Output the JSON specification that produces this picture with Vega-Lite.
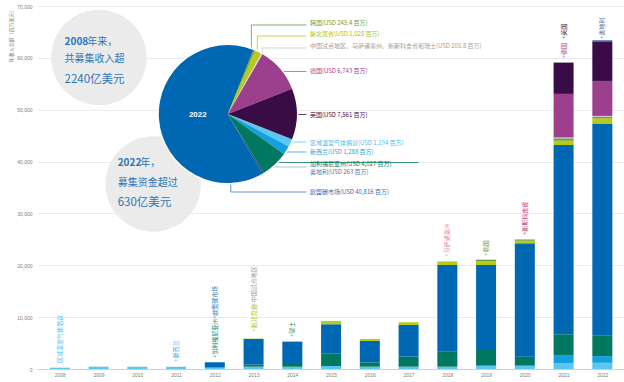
{
  "$schema": "https://vega.github.io/schema/vega-lite/v6.json",
  "width": 587,
  "height": 363,
  "autosize": "none",
  "padding": {"left": 37, "top": 6, "right": 0, "bottom": 13},
  "background": "white",
  "config": {
    "view": {"stroke": null},
    "font": "Noto Sans CJK SC",
    "axisX": {"labelFont": "Liberation Sans", "labelFontSize": 5, "labelColor": "#808080", "ticks": false, "grid": false, "domainColor": "#d0d0d0", "labelPadding": 3},
    "axisY": {"labelFont": "Liberation Sans", "labelFontSize": 5, "labelColor": "#808080", "labelPadding": 5, "ticks": false, "domain": false, "gridColor": "#ebebeb", "gridWidth": 1, "titleFontSize": 5, "titleColor": "#8a8a8a", "titleFontWeight": "normal"}
  },
  "datasets": {
    "series": [
      {"s": "区域温室气体倡议", "rank": 1, "prank": 6},
      {"s": "新西兰", "rank": 2, "prank": 7},
      {"s": "加利福尼亚州", "rank": 3, "prank": 8},
      {"s": "欧盟碳市场", "rank": 4, "prank": 10},
      {"s": "魁北克省", "rank": 5, "prank": 2},
      {"s": "韩国", "rank": 6, "prank": 1},
      {"s": "中国试点地区等", "rank": 7, "prank": 3},
      {"s": "德国", "rank": 8, "prank": 4},
      {"s": "英国", "rank": 9, "prank": 5},
      {"s": "奥地利", "rank": 10, "prank": 9}
    ],
    "bars": [
      {"year": 2008, "s": "区域温室气体倡议", "v": 250},
      {"year": 2009, "s": "区域温室气体倡议", "v": 450},
      {"year": 2010, "s": "区域温室气体倡议", "v": 440},
      {"year": 2011, "s": "区域温室气体倡议", "v": 430},
      {"year": 2012, "s": "区域温室气体倡议", "v": 240},
      {"year": 2012, "s": "加利福尼亚州", "v": 60},
      {"year": 2012, "s": "欧盟碳市场", "v": 1000},
      {"year": 2013, "s": "区域温室气体倡议", "v": 450},
      {"year": 2013, "s": "加利福尼亚州", "v": 390},
      {"year": 2013, "s": "欧盟碳市场", "v": 4960},
      {"year": 2013, "s": "魁北克省", "v": 60},
      {"year": 2013, "s": "中国试点地区等", "v": 20},
      {"year": 2014, "s": "区域温室气体倡议", "v": 450},
      {"year": 2014, "s": "加利福尼亚州", "v": 520},
      {"year": 2014, "s": "欧盟碳市场", "v": 4300},
      {"year": 2014, "s": "魁北克省", "v": 120},
      {"year": 2015, "s": "区域温室气体倡议", "v": 580},
      {"year": 2015, "s": "加利福尼亚州", "v": 2450},
      {"year": 2015, "s": "欧盟碳市场", "v": 5600},
      {"year": 2015, "s": "魁北克省", "v": 640},
      {"year": 2016, "s": "区域温室气体倡议", "v": 450},
      {"year": 2016, "s": "加利福尼亚州", "v": 840},
      {"year": 2016, "s": "欧盟碳市场", "v": 4120},
      {"year": 2016, "s": "魁北克省", "v": 390},
      {"year": 2017, "s": "区域温室气体倡议", "v": 450},
      {"year": 2017, "s": "加利福尼亚州", "v": 1930},
      {"year": 2017, "s": "欧盟碳市场", "v": 6110},
      {"year": 2017, "s": "魁北克省", "v": 520},
      {"year": 2018, "s": "区域温室气体倡议", "v": 450},
      {"year": 2018, "s": "加利福尼亚州", "v": 2890},
      {"year": 2018, "s": "欧盟碳市场", "v": 16720},
      {"year": 2018, "s": "魁北克省", "v": 710},
      {"year": 2018, "s": "中国试点地区等", "v": 60},
      {"year": 2019, "s": "区域温室气体倡议", "v": 640},
      {"year": 2019, "s": "加利福尼亚州", "v": 3020},
      {"year": 2019, "s": "欧盟碳市场", "v": 16390},
      {"year": 2019, "s": "魁北克省", "v": 770},
      {"year": 2019, "s": "韩国", "v": 250},
      {"year": 2019, "s": "中国试点地区等", "v": 60},
      {"year": 2020, "s": "区域温室气体倡议", "v": 640},
      {"year": 2020, "s": "加利福尼亚州", "v": 1740},
      {"year": 2020, "s": "欧盟碳市场", "v": 21850},
      {"year": 2020, "s": "魁北克省", "v": 510},
      {"year": 2020, "s": "韩国", "v": 250},
      {"year": 2020, "s": "中国试点地区等", "v": 80},
      {"year": 2021, "s": "区域温室气体倡议", "v": 1100},
      {"year": 2021, "s": "新西兰", "v": 1610},
      {"year": 2021, "s": "加利福尼亚州", "v": 3990},
      {"year": 2021, "s": "欧盟碳市场", "v": 36490},
      {"year": 2021, "s": "魁北克省", "v": 840},
      {"year": 2021, "s": "韩国", "v": 450},
      {"year": 2021, "s": "中国试点地区等", "v": 150},
      {"year": 2021, "s": "德国", "v": 8420},
      {"year": 2021, "s": "英国", "v": 6040},
      {"year": 2022, "s": "区域温室气体倡议", "v": 1194},
      {"year": 2022, "s": "新西兰", "v": 1288},
      {"year": 2022, "s": "加利福尼亚州", "v": 4027},
      {"year": 2022, "s": "欧盟碳市场", "v": 40816},
      {"year": 2022, "s": "魁北克省", "v": 1028},
      {"year": 2022, "s": "韩国", "v": 245.4},
      {"year": 2022, "s": "中国试点地区等", "v": 205.8},
      {"year": 2022, "s": "德国", "v": 6743},
      {"year": 2022, "s": "英国", "v": 7561},
      {"year": 2022, "s": "奥地利", "v": 263}
    ],
    "bubbles": [
      {"x": 2009.01, "y": 60070},
      {"x": 2010.41, "y": 35675}
    ],
    "btext": [
      {"x": 2008.707, "y": 63117, "t": "年来，"},
      {"x": 2008.123, "y": 59723, "t": "共募集收入超"},
      {"x": 2010.077, "y": 39667, "t": "年，"},
      {"x": 2009.493, "y": 35810, "t": "募集资金超过"}
    ],
    "bbold": [
      {"x": 2008.123, "y": 63117, "t": "2008"},
      {"x": 2009.493, "y": 39667, "t": "2022"}
    ],
    "bbig": [
      {"x": 2008.123, "y": 55731, "t": "2240亿美元"},
      {"x": 2009.493, "y": 31954, "t": "630亿美元"}
    ],
    "leaders": [
      {"c": "韩国", "x": 2012.943, "y": 61000, "x2": 2012.943, "y2": 66337},
      {"c": "韩国", "x": 2012.943, "y": 66337, "x2": 2014.364, "y2": 66337},
      {"c": "魁北克省", "x": 2013.096, "y": 60600, "x2": 2013.096, "y2": 64216},
      {"c": "魁北克省", "x": 2013.096, "y": 64216, "x2": 2014.364, "y2": 64216},
      {"c": "中国试点地区等", "x": 2013.222, "y": 60000, "x2": 2013.222, "y2": 61902},
      {"c": "中国试点地区等", "x": 2013.222, "y": 61902, "x2": 2014.364, "y2": 61902},
      {"c": "德国", "x": 2013.6, "y": 57370, "x2": 2014.364, "y2": 57370},
      {"c": "英国", "x": 2014.0, "y": 49078, "x2": 2014.364, "y2": 49078},
      {"c": "区域温室气体倡议", "x": 2013.85, "y": 43775, "x2": 2014.364, "y2": 43775},
      {"c": "新西兰", "x": 2013.7, "y": 41846, "x2": 2014.364, "y2": 41846},
      {"c": "加利福尼亚州", "x": 2013.5, "y": 39822, "x2": 2017.256, "y2": 39822},
      {"c": "奥地利", "x": 2013.3, "y": 38954, "x2": 2014.364, "y2": 38954},
      {"c": "欧盟碳市场", "x": 2012.411, "y": 36600, "x2": 2012.411, "y2": 34133},
      {"c": "欧盟碳市场", "x": 2012.411, "y": 34133, "x2": 2014.364, "y2": 34133}
    ],
    "plabels": [
      {"c": "韩国", "x": 2014.453, "y": 66659, "t": "韩国(USD 245.4 百万)"},
      {"c": "魁北克省", "x": 2014.453, "y": 64505, "t": "魁北克省(USD 1,028 百万)"},
      {"c": "中国试点地区等", "x": 2014.453, "y": 62191, "t": "中国试点地区、马萨诸塞州、新斯科舍省和瑞士(USD 205.8 百万)"},
      {"c": "德国", "x": 2014.453, "y": 57466, "t": "德国(USD 6,743 百万)"},
      {"c": "英国", "x": 2014.453, "y": 48981, "t": "英国(USD 7,561 百万)"},
      {"c": "区域温室气体倡议", "x": 2014.453, "y": 43582, "t": "区域温室气体倡议(USD 1,194 百万)"},
      {"c": "新西兰", "x": 2014.453, "y": 41750, "t": "新西兰(USD 1,288 百万)"},
      {"c": "加利福尼亚州", "x": 2014.453, "y": 39532, "t": "加利福尼亚州(USD 4,027 百万)"},
      {"c": "奥地利", "x": 2014.453, "y": 37893, "t": "奥地利(USD 263 百万)"},
      {"c": "欧盟碳市场", "x": 2014.453, "y": 34133, "t": "欧盟碳市场(USD 40,816 百万)"}
    ],
    "ylabels": [
      {"x": 2008, "y": 1157, "t": "区域温室气体倡议", "c": "区域温室气体倡议"},
      {"x": 2011, "y": 1408, "t": "+新西兰", "c": "新西兰"},
      {"x": 2012, "y": 2121, "t": "+加利福尼亚州", "c": "加利福尼亚州"},
      {"x": 2012, "y": 9642, "t": "+欧盟碳市场", "c": "欧盟碳市场"},
      {"x": 2013, "y": 7193, "t": "+魁北克省", "c": "魁北克省"},
      {"x": 2013, "y": 12207, "t": "+中国试点地区", "c": "中国试点地区等"},
      {"x": 2014, "y": 6171, "t": "+瑞士", "c": "瑞士"},
      {"x": 2018, "y": 21656, "t": "+马萨诸塞州", "c": "马萨诸塞州"},
      {"x": 2019, "y": 21849, "t": "+韩国", "c": "韩国"},
      {"x": 2020, "y": 25840, "t": "+新斯科舍省", "c": "新斯科舍省"},
      {"x": 2021, "y": 59916, "t": "+德国", "c": "德国"},
      {"x": 2021, "y": 63637, "t": "+英国", "c": "英国"},
      {"x": 2022, "y": 63637, "t": "+奥地利", "c": "奥地利"}
    ]
  },
  "layer": [
    {
      "data": {"name": "bars"},
      "transform": [
        {"lookup": "s", "from": {"data": {"name": "series"}, "key": "s", "fields": ["rank", "prank"]}}
      ],
      "mark": {"type": "bar", "size": 20, "orient": "vertical"},
      "encoding": {
        "x": {
          "field": "year", "type": "quantitative",
          "scale": {"domain": [2007.54, 2022.43], "nice": false, "zero": false},
          "axis": {"title": null, "grid": false, "values": [2008, 2009, 2010, 2011, 2012, 2013, 2014, 2015, 2016, 2017, 2018, 2019, 2020, 2021, 2022], "labelExpr": "format(datum.value, 'd')"}
        },
        "y": {
          "field": "v", "type": "quantitative", "stack": "zero",
          "scale": {"domain": [0, 70000], "nice": false},
          "axis": {
            "title": "年收入总额（百万美元）", "titleX": -27, "titleY": 1, "titleAlign": "right", "titleBaseline": "middle", "titleAngle": 270,
            "grid": true, "values": [0, 10000, 20000, 30000, 40000, 50000, 60000, 70000], "labelExpr": "format(datum.value, ',')"
          }
        },
        "color": {
          "field": "s", "type": "nominal", "legend": null,
          "scale": {
            "domain": ["区域温室气体倡议", "新西兰", "加利福尼亚州", "欧盟碳市场", "魁北克省", "韩国", "中国试点地区等", "德国", "英国", "奥地利"],
            "range": ["#5cc6f2", "#12a0e0", "#00775f", "#0068b3", "#b6cc1a", "#6b9b35", "#d3d3d3", "#9c3f8d", "#3a0c46", "#1f4e80"]
          }
        },
        "order": {"field": "rank", "type": "quantitative"}
      }
    },
    {
      "data": {"name": "bubbles"},
      "mark": {"type": "point", "shape": "circle", "filled": true, "size": 9120, "color": "#ebebeb", "opacity": 1},
      "encoding": {
        "x": {"field": "x", "type": "quantitative", "scale": {"domain": [2007.54, 2022.43], "nice": false, "zero": false}},
        "y": {"field": "y", "type": "quantitative", "scale": {"domain": [0, 70000], "nice": false}}
      }
    },
    {
      "data": {"name": "leaders"},
      "mark": {"type": "rule", "strokeWidth": 0.8},
      "encoding": {
        "x": {"field": "x", "type": "quantitative", "scale": {"domain": [2007.54, 2022.43], "nice": false, "zero": false}},
        "y": {"field": "y", "type": "quantitative", "scale": {"domain": [0, 70000], "nice": false}},
        "x2": {"field": "x2"},
        "y2": {"field": "y2"},
        "stroke": {
          "field": "c", "type": "nominal", "legend": null,
          "scale": {
            "domain": ["区域温室气体倡议", "新西兰", "加利福尼亚州", "欧盟碳市场", "魁北克省", "韩国", "中国试点地区等", "德国", "英国", "奥地利", "瑞士", "马萨诸塞州", "新斯科舍省"],
            "range": ["#6ccbf2", "#2aa3e2", "#0a7a60", "#3a7fbe", "#b6cc1a", "#6a9a3a", "#c8c8c8", "#b05ba2", "#3a0c46", "#9fb3c8", "#2f8a70", "#e58aa5", "#c42d62"]
          }
        }
      }
    },
    {
      "data": {"values": [{"k": "pie"}]},
      "mark": {"type": "point", "shape": "circle", "filled": true, "size": 19881, "color": "#ffffff", "opacity": 1},
      "encoding": {
        "x": {"datum": 2012.335, "type": "quantitative", "scale": {"domain": [2007.54, 2022.43], "nice": false, "zero": false}},
        "y": {"datum": 49174, "type": "quantitative", "scale": {"domain": [0, 70000], "nice": false}}
      }
    },
    {
      "data": {"name": "bars"},
      "transform": [
        {"filter": "datum.year === 2022"},
        {"lookup": "s", "from": {"data": {"name": "series"}, "key": "s", "fields": ["rank", "prank"]}}
      ],
      "mark": {"type": "arc", "outerRadius": 69},
      "encoding": {
        "x": {"datum": 2012.335, "type": "quantitative", "scale": {"domain": [2007.54, 2022.43], "nice": false, "zero": false}},
        "y": {"datum": 49174, "type": "quantitative", "scale": {"domain": [0, 70000], "nice": false}},
        "theta": {"field": "v", "type": "quantitative", "scale": {"range": [0.38, 6.6632]}},
        "color": {"field": "s", "type": "nominal", "legend": null},
        "order": {"field": "prank", "type": "quantitative"}
      }
    },
    {
      "data": {"values": [{"t": "2022"}]},
      "mark": {"type": "text", "color": "#ffffff", "fontWeight": "bold", "fontSize": 8, "font": "Liberation Sans", "align": "center", "baseline": "middle"},
      "encoding": {
        "x": {"datum": 2011.56, "type": "quantitative", "scale": {"domain": [2007.54, 2022.43], "nice": false, "zero": false}},
        "y": {"datum": 48981, "type": "quantitative", "scale": {"domain": [0, 70000], "nice": false}},
        "text": {"field": "t"}
      }
    },
    {
      "data": {"name": "btext"},
      "mark": {"type": "text", "color": "#2a78b9", "fontSize": 10, "align": "left", "baseline": "middle"},
      "encoding": {
        "x": {"field": "x", "type": "quantitative", "scale": {"domain": [2007.54, 2022.43], "nice": false, "zero": false}},
        "y": {"field": "y", "type": "quantitative", "scale": {"domain": [0, 70000], "nice": false}},
        "text": {"field": "t"}
      }
    },
    {
      "data": {"name": "bbold"},
      "mark": {"type": "text", "color": "#2a78b9", "fontSize": 10, "fontWeight": "bold", "align": "left", "baseline": "middle"},
      "encoding": {
        "x": {"field": "x", "type": "quantitative", "scale": {"domain": [2007.54, 2022.43], "nice": false, "zero": false}},
        "y": {"field": "y", "type": "quantitative", "scale": {"domain": [0, 70000], "nice": false}},
        "text": {"field": "t"}
      }
    },
    {
      "data": {"name": "bbig"},
      "mark": {"type": "text", "color": "#2a78b9", "fontSize": 11.5, "align": "left", "baseline": "middle"},
      "encoding": {
        "x": {"field": "x", "type": "quantitative", "scale": {"domain": [2007.54, 2022.43], "nice": false, "zero": false}},
        "y": {"field": "y", "type": "quantitative", "scale": {"domain": [0, 70000], "nice": false}},
        "text": {"field": "t"}
      }
    },
    {
      "data": {"name": "plabels"},
      "mark": {"type": "text", "fontSize": 6, "align": "left", "baseline": "middle"},
      "encoding": {
        "x": {"field": "x", "type": "quantitative", "scale": {"domain": [2007.54, 2022.43], "nice": false, "zero": false}},
        "y": {"field": "y", "type": "quantitative", "scale": {"domain": [0, 70000], "nice": false}},
        "text": {"field": "t"},
        "fill": {
          "field": "c", "type": "nominal", "legend": null,
          "scale": {
            "domain": ["区域温室气体倡议", "新西兰", "加利福尼亚州", "欧盟碳市场", "魁北克省", "韩国", "中国试点地区等", "德国", "英国", "奥地利", "瑞士", "马萨诸塞州", "新斯科舍省"],
            "range": ["#4cbdef", "#2aa3e2", "#0a7a60", "#2c74b6", "#a9c21c", "#6a9a3a", "#a0a0a0", "#9c3f8d", "#3a0c46", "#4a78ad", "#2f8a70", "#e58aa5", "#c42d62"]
          }
        }
      }
    },
    {
      "data": {"name": "ylabels"},
      "mark": {"type": "text", "fontSize": 6, "align": "left", "baseline": "middle", "angle": 270},
      "encoding": {
        "x": {"field": "x", "type": "quantitative", "scale": {"domain": [2007.54, 2022.43], "nice": false, "zero": false}},
        "y": {"field": "y", "type": "quantitative", "scale": {"domain": [0, 70000], "nice": false}},
        "text": {"field": "t"},
        "fill": {"field": "c", "type": "nominal", "legend": null}
      }
    }
  ]
}
